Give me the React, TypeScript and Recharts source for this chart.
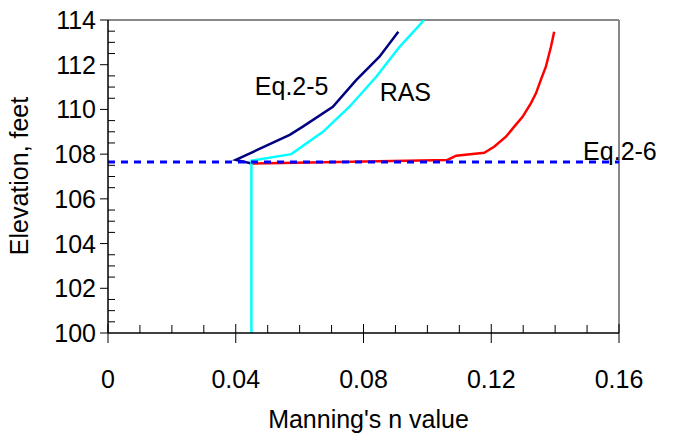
import React from 'react'
import { LineChart, Line, XAxis, YAxis, ReferenceLine, ReferenceDot, Label } from 'recharts'

document.body.style.margin = '0'

const FONT = '"Liberation Sans", Arial, sans-serif'

// Eq.2-5 (navy)
const eq25N = [0.045, 0.04, 0.0569, 0.061, 0.0704, 0.0777, 0.085, 0.0909]
const eq25E = [107.58, 107.74, 108.86, 109.23, 110.12, 111.31, 112.36, 113.47]

// RAS (cyan)
const rasN = [0.0449, 0.0449, 0.045, 0.0574, 0.0673, 0.0756, 0.084, 0.0913, 0.099]
const rasE = [100, 107.59, 107.71, 108.0, 109.0, 110.12, 111.46, 112.8, 114.0]

// red curve
const redN = [0.045, 0.1063, 0.109, 0.1178, 0.1209, 0.1246, 0.1272, 0.1298, 0.1324, 0.134, 0.1355, 0.1371, 0.1387, 0.1397]
const redE = [107.58, 107.74, 107.93, 108.06, 108.33, 108.78, 109.23, 109.67, 110.27, 110.72, 111.31, 111.91, 112.8, 113.47]

// Eq.2-6 (dashed)
const eq26N = [0, 0.16]
const eq26E = [107.65, 107.65]

const xTicks = [0, 0.01, 0.02, 0.03, 0.04, 0.05, 0.06, 0.07, 0.08, 0.09, 0.1, 0.11, 0.12, 0.13, 0.14, 0.15, 0.16]
const xMajor = [0, 0.04, 0.08, 0.12, 0.16]
const yTicks = [
  100, 100.5, 101, 101.5, 102, 102.5, 103, 103.5, 104, 104.5, 105, 105.5, 106, 106.5, 107, 107.5,
  108, 108.5, 109, 109.5, 110, 110.5, 111, 111.5, 112, 112.5, 113, 113.5, 114,
]
const yMajor = [100, 102, 104, 106, 108, 110, 112, 114]

const toPts = (n: number[], e: number[]) => n.map((v, i) => ({ n: v, e: e[i] }))

const XTick = (props: any) => {
  const { x, y, payload } = props
  const major = xMajor.includes(payload.value)
  if (!major) return <line x1={x} x2={x} y1={y} y2={y - 8} stroke="#000" strokeWidth={1} />
  return (
    <g>
      <line x1={x} x2={x} y1={y - 9} y2={y + 10} stroke="#000" strokeWidth={1} />
      <text x={x} y={y + 55} textAnchor="middle" fontSize={25} fontFamily={FONT} fill="#000">
        {String(payload.value)}
      </text>
    </g>
  )
}

const YTick = (props: any) => {
  const { x, y, payload } = props
  const major = yMajor.includes(payload.value)
  if (!major) return <line x1={x} x2={x + 7} y1={y} y2={y} stroke="#000" strokeWidth={1} />
  return (
    <g>
      <line x1={x - 8} x2={x} y1={y} y2={y} stroke="#000" strokeWidth={1} />
      <text x={x - 12} y={y + 9} textAnchor="end" fontSize={25} fontFamily={FONT} fill="#000">
        {payload.value}
      </text>
    </g>
  )
}

const noteStyle = { fontSize: 25, fontFamily: FONT, fill: '#000' }

export default function App() {
  return (
    <LineChart width={675} height={436} margin={{ top: 20, right: 56, left: 0, bottom: 0 }}>
      <XAxis
        type="number"
        dataKey="n"
        domain={[0, 0.16]}
        ticks={xTicks}
        interval={0}
        tickSize={0}
        tickMargin={0}
        tick={<XTick />}
        height={103}
        axisLine={{ stroke: '#000', strokeWidth: 1.5 }}
        allowDataOverflow
      >
        <Label value="Manning's n value" position="insideBottom" offset={8} dx={5} style={noteStyle} />
      </XAxis>
      <YAxis
        type="number"
        dataKey="e"
        domain={[100, 114]}
        ticks={yTicks}
        interval={0}
        tickSize={0}
        tickMargin={0}
        tick={<YTick />}
        width={108}
        axisLine={{ stroke: '#000', strokeWidth: 1.5 }}
        allowDataOverflow
        label={{
          content: () => (
            <text x={28} y={176} transform="rotate(-90 28 176)" textAnchor="middle" fontSize={25} fontFamily={FONT} fill="#000">
              Elevation, feet
            </text>
          ),
        }}
      />
      <ReferenceLine y={114} stroke="#888" strokeWidth={2} />
      <ReferenceLine x={0.16} stroke="#888" strokeWidth={2} />
      <Line data={toPts(eq25N, eq25E)} dataKey="e" stroke="#000080" strokeWidth={2.5} dot={false} type="linear" isAnimationActive={false} />
      <Line data={toPts(redN, redE)} dataKey="e" stroke="#ff0000" strokeWidth={2.5} dot={false} type="linear" isAnimationActive={false} />
      <Line data={toPts(rasN, rasE)} dataKey="e" stroke="#00ffff" strokeWidth={2.5} dot={false} type="linear" isAnimationActive={false} />
      <Line data={toPts(eq26N, eq26E)} dataKey="e" stroke="#0000ff" strokeWidth={3} strokeDasharray="7 6" dot={false} type="linear" isAnimationActive={false} />
      <ReferenceDot x={0.0575} y={111.05} r={0} fill="none" stroke="none" label={{ value: 'Eq.2-5', position: 'center', style: noteStyle }} />
      <ReferenceDot x={0.0931} y={110.78} r={0} fill="none" stroke="none" label={{ value: 'RAS', position: 'center', style: noteStyle }} />
      <ReferenceDot x={0.1603} y={108.14} r={0} fill="none" stroke="none" ifOverflow="visible" label={{ value: 'Eq.2-6', position: 'center', style: noteStyle }} />
    </LineChart>
  )
}
